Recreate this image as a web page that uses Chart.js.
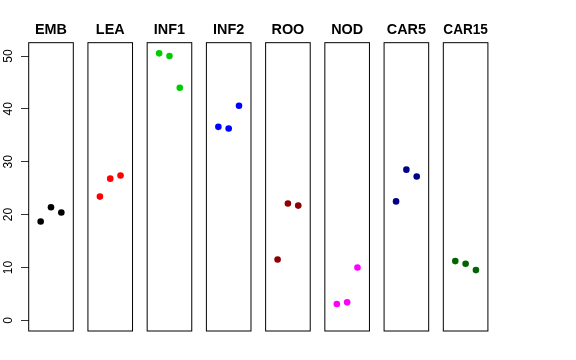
<!DOCTYPE html>
<html lang="en">
<head>
<meta charset="UTF-8" />
<title>Replicates by tissue</title>
<style>
  body { margin: 0; background: #fff; }
  #wrap { position: relative; width: 576px; height: 360px; }
  #wrap canvas { position: absolute; left: 0; top: 0; }
</style>
</head>
<body>
<div id="wrap"></div>
<script src="https://cdn.jsdelivr.net/npm/chart.js@4"></script>
<script>
// one panel per tissue, three replicates each
const tissues = ["EMB", "LEA", "INF1", "INF2", "ROO", "NOD", "CAR5", "CAR15"];
const colors = ["#000000", "#FF0000", "#00CD00", "#0000FF", "#8B0000", "#FF00FF", "#00008B", "#006400"];
const replicate = [1, 2, 3];
const emb = [18.7, 21.4, 20.4];
const lea = [23.4, 26.8, 27.4];
const inf1 = [50.5, 50.0, 44.0];
const inf2 = [36.6, 36.3, 40.6];
const roo = [11.5, 22.1, 21.7];
const nod = [3.1, 3.4, 10.0];
const car5 = [22.5, 28.5, 27.2];
const car15 = [11.2, 10.7, 9.5];
const values = [emb, lea, inf1, inf2, roo, nod, car5, car15];
const yTicks = [0, 10, 20, 30, 40, 50];

Chart.defaults.font.family = "'Liberation Sans', Arial, sans-serif";

// panel geometry (R mfrow style strip)
const W = 576, H = 360;
const firstLeft = 28.7, step = 59.23, panelW = 44.6, bottomPad = 29;

const frame = {
  id: "frame",
  beforeDatasetsDraw(chart) {
    const { ctx, chartArea: a } = chart;
    ctx.save();
    ctx.strokeStyle = "#000";
    ctx.lineWidth = 1;
    ctx.strokeRect(a.left, a.top, a.right - a.left, a.bottom - a.top);
    ctx.restore();
  }
};

const wrap = document.getElementById("wrap");
tissues.forEach(function (name, i) {
  const canvas = document.createElement("canvas");
  canvas.width = W;
  canvas.height = H;
  wrap.appendChild(canvas);

  const left = firstLeft + step * i;
  const withAxis = i === 0;

  new Chart(canvas, {
    type: "scatter",
    data: {
      datasets: [{
        data: replicate.map((x, k) => ({ x: x, y: values[i][k] })),
        backgroundColor: colors[i],
        borderWidth: 0,
        pointRadius: 3.3,
        pointHoverRadius: 3.3
      }]
    },
    options: {
      responsive: false,
      animation: false,
      devicePixelRatio: 1,
      layout: {
        padding: { left: withAxis ? 0 : left, right: W - left - panelW, top: 0, bottom: bottomPad }
      },
      scales: {
        x: { type: "linear", display: false, min: -0.16, max: 4.16 },
        y: {
          display: withAxis,
          min: -2.02,
          max: 52.52,
          afterBuildTicks: (ax) => { ax.ticks = yTicks.map(v => ({ value: v })); },
          afterFit: (ax) => { ax.width = withAxis ? firstLeft : 0; },
          grid: { drawOnChartArea: false, tickLength: 7.7, color: "#333" },
          border: { display: false },
          ticks: {
            minRotation: 90,
            maxRotation: 90,
            crossAlign: "center",
            padding: 5.8,
            color: "#000",
            font: { size: 12 }
          }
        }
      },
      plugins: {
        legend: { display: false },
        tooltip: { enabled: false },
        title: {
          display: true,
          text: name,
          fullSize: false,
          color: "#000",
          font: { size: 14.4, weight: "bold" },
          padding: { top: 21, bottom: 4.4 }
        }
      }
    },
    plugins: [frame]
  });
});
</script>
</body>
</html>
